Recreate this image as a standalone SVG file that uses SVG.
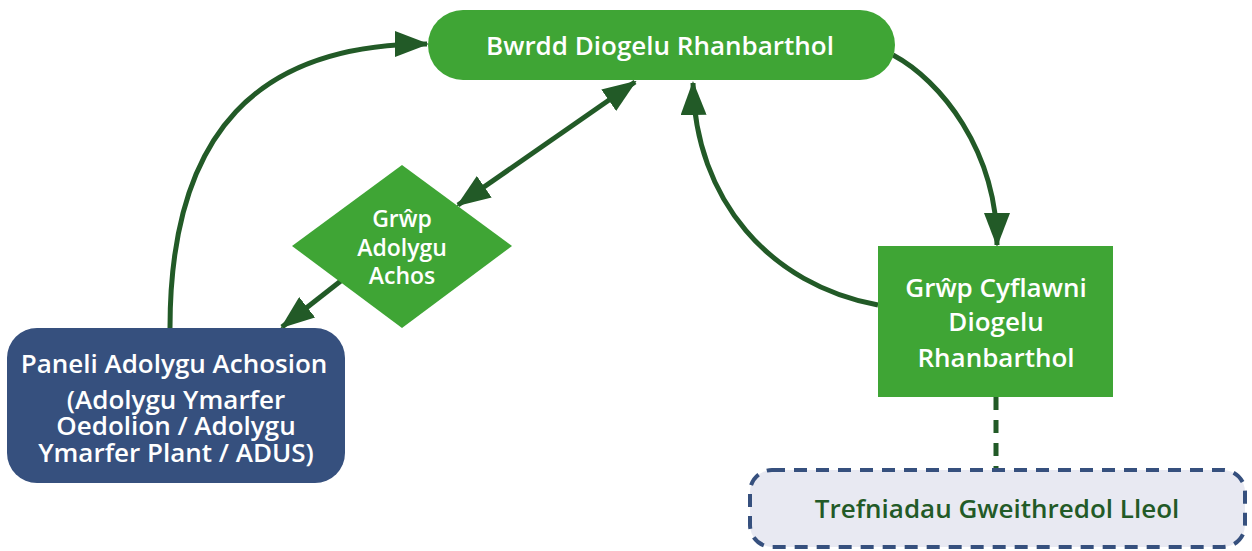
<svg xmlns="http://www.w3.org/2000/svg" width="1252" height="551" viewBox="0 0 1252 551">
<style>
.lbl{font-family:"Open Sans","Noto Sans","Liberation Sans",sans-serif;font-weight:600;font-size:26px;fill:#ffffff;text-anchor:middle}
.sm{font-size:23px}
.dk{fill:#225a27}
.con{fill:none;stroke:#225a27;stroke-width:5}
.green{fill:#3fa535}
</style>
<defs>
<marker id="ah" markerUnits="userSpaceOnUse" markerWidth="34" markerHeight="26" viewBox="0 0 34 26" refX="32" refY="13" orient="auto-start-reverse">
<path d="M0,0 L34,13 L0,26 Z" fill="#225a27"/>
</marker>
</defs>
<rect width="1252" height="551" fill="#ffffff"/>
<g id="connectors">
<path class="con" d="M170,328 C170,130 260,44 427,44" marker-end="url(#ah)"/>
<path class="con" d="M893,55 C940,80 997,150 997,245" marker-end="url(#ah)"/>
<path class="con" d="M878,305 C770,285 695,200 693,83" marker-end="url(#ah)"/>
<path class="con" d="M458,205 L635,82" marker-start="url(#ah)" marker-end="url(#ah)"/>
<path class="con" d="M342,280 L282,327" marker-end="url(#ah)"/>
<path d="M996,397 L996,469" fill="none" stroke="#225a27" stroke-width="5" stroke-dasharray="13,10"/>
</g>
<g id="bwrdd">
<rect class="green" x="428" y="10" width="467" height="70" rx="35"/>
<text class="lbl" x="660" y="55">Bwrdd Diogelu Rhanbarthol</text>
</g>
<g id="grwp-adolygu">
<path class="green" d="M402,165 L512,246 L402,328 L292,246 Z"/>
<text class="lbl sm" x="402" y="227">Grŵp</text>
<text class="lbl sm" x="402" y="256">Adolygu</text>
<text class="lbl sm" x="402" y="284">Achos</text>
</g>
<g id="paneli">
<rect x="7" y="328" width="338" height="155" rx="30" fill="#36507e"/>
<text class="lbl" x="174" y="373">Paneli Adolygu Achosion</text>
<text class="lbl" x="176" y="409">(Adolygu Ymarfer</text>
<text class="lbl" x="176" y="435">Oedolion / Adolygu</text>
<text class="lbl" x="176" y="462">Ymarfer Plant / ADUS)</text>
</g>
<g id="grwp-cyflawni">
<rect class="green" x="878" y="246" width="235" height="151"/>
<text class="lbl" x="996" y="297">Grŵp Cyflawni</text>
<text class="lbl" x="996" y="331">Diogelu</text>
<text class="lbl" x="996" y="367">Rhanbarthol</text>
</g>
<g id="trefniadau">
<rect x="750" y="470" width="495" height="77" rx="22" fill="#e8e9f2" stroke="#36507e" stroke-width="4" stroke-dasharray="13,9"/>
<text class="lbl dk" x="997" y="518">Trefniadau Gweithredol Lleol</text>
</g>
</svg>
